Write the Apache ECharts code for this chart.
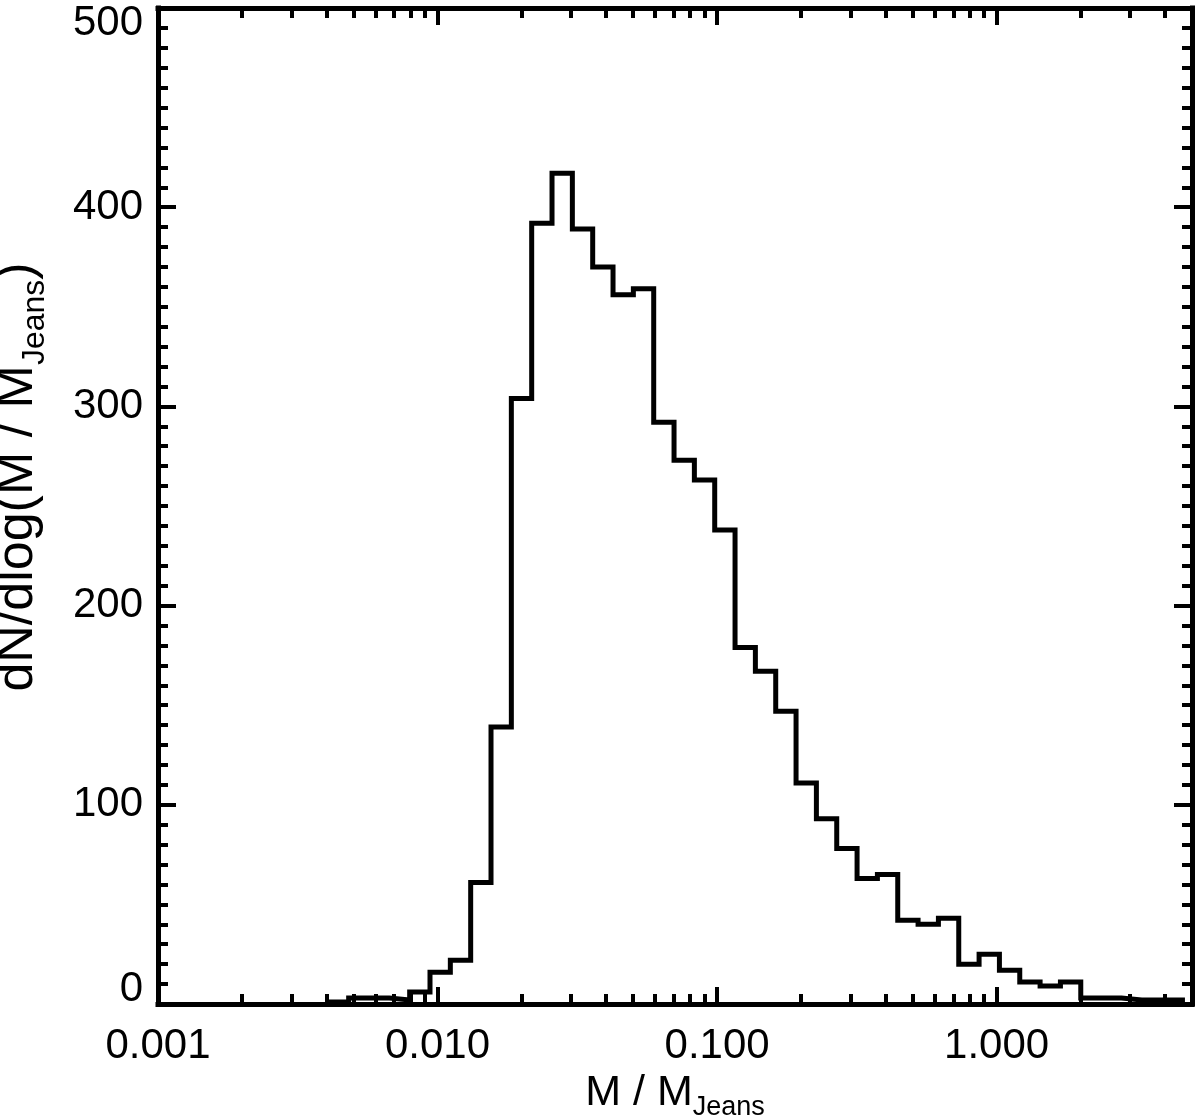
<!DOCTYPE html>
<html>
<head>
<meta charset="utf-8">
<title>dN/dlog(M / M_Jeans)</title>
<script src="https://cdn.jsdelivr.net/npm/echarts@6/dist/echarts.min.js"></script>
<style>
  html, body { margin: 0; padding: 0; background: #fff; }
  #chart { width: 1200px; height: 1120px; }
</style>
</head>
<body>
<div id="chart"></div>
<script>
// histogram, bins uniform in log10(M / M_Jeans)
var binStartLog = -2.3907;   // left edge of first bin
var binWidthLog = 0.07275;
var counts = [1, 3, 3, 2, 6, 16, 22, 61, 139, 304,
  392, 417, 389, 370, 356, 359, 292, 273, 263, 238,
  179, 167, 147, 111, 93, 78, 63, 65, 42, 40,
  43, 20, 25, 17, 11, 9, 11, 3, 3, 2,
  2, 2];

// axes
var xMin = 0.001, xMax = 5;
var xMajorTicks = [0.001, 0.01, 0.1, 1];
var xTickLabels = ["0.001", "0.010", "0.100", "1.000"];
var xMinorMult = [2, 3, 4, 5, 6, 7, 8, 9];
var yMin = 0, yMax = 500, yStep = 100;

var font = "'Liberation Sans', Arial, Helvetica, sans-serif";

// minor ticks of the log axis: 2..9 in each decade
var xMinorTicks = [];
xMajorTicks.forEach(function (d) {
  xMinorMult.forEach(function (k) {
    if (d * k < xMax) xMinorTicks.push(d * k);
  });
});

// step line points at the bin edges
var histData = [];
for (var i = 0; i < counts.length; i++) {
  histData.push([Math.pow(10, binStartLog + i * binWidthLog), counts[i]]);
}
histData.push([Math.pow(10, binStartLog + counts.length * binWidthLog), 0]);

function xLabel(v) {
  var best = 0;
  for (var j = 1; j < xMajorTicks.length; j++) {
    if (Math.abs(Math.log10(v / xMajorTicks[j])) < Math.abs(Math.log10(v / xMajorTicks[best]))) best = j;
  }
  return xTickLabels[best];
}

var black = "#000";
var lineW = 5;

function xAxisOf(pos, major, withLabel) {
  var ax = {
    type: "log",
    logBase: 10,
    min: xMin,
    max: xMax,
    position: pos,
    axisLine: { show: major, onZero: false, lineStyle: { color: black, width: lineW, cap: "square" } },
    axisTick: {
      show: true,
      inside: true,
      length: major ? 17 : 10,
      customValues: major ? xMajorTicks : xMinorTicks,
      lineStyle: { color: black, width: 4 }
    },
    minorTick: { show: false },
    splitLine: { show: false },
    axisLabel: { show: false }
  };
  if (withLabel) {
    ax.axisLabel = {
      show: true,
      customValues: xMajorTicks,
      formatter: xLabel,
      color: black,
      fontFamily: font,
      fontSize: 42,
      margin: 21
    };
    ax.name = "{m|M / M}{s|Jeans}";
    ax.nameLocation = "middle";
    ax.nameGap = 66;
    ax.nameTextStyle = {
      color: black,
      fontFamily: font,
      rich: {
        m: { fontSize: 43, lineHeight: 48, verticalAlign: "top", fontFamily: font, color: black },
        s: { fontSize: 27, lineHeight: 30, padding: [22, 0, 0, 0], verticalAlign: "top", fontFamily: font, color: black }
      }
    };
  }
  return ax;
}

function yAxisOf(pos, withLabel) {
  var ax = {
    type: "value",
    min: yMin,
    max: yMax,
    interval: yStep,
    position: pos,
    axisLine: { show: true, lineStyle: { color: black, width: lineW, cap: "square" } },
    axisTick: { show: true, inside: true, length: 18, lineStyle: { color: black, width: 4 } },
    minorTick: { show: true, splitNumber: 10, length: 10, lineStyle: { color: black, width: 4 } },
    splitLine: { show: false },
    axisLabel: { show: false }
  };
  if (withLabel) {
    ax.axisLabel = {
      show: true,
      color: black,
      fontFamily: font,
      fontSize: 42,
      lineHeight: 30,
      margin: 15,
      verticalAlignMinLabel: "bottom",
      verticalAlignMaxLabel: "top"
    };
    ax.name = "{a|dN/dlog(M / M}{s|Jeans}{c|)}";
    ax.nameLocation = "middle";
    ax.nameRotate = 90;
    ax.nameGap = 108;
    ax.nameTextStyle = {
      color: black,
      fontFamily: font,
      rich: {
        a: { fontSize: 52, lineHeight: 58, padding: [0, 0, 0, 58], verticalAlign: "top", fontFamily: font, color: black },
        s: { fontSize: 32, lineHeight: 36, padding: [27, 0, 0, 0], verticalAlign: "top", fontFamily: font, color: black },
        c: { fontSize: 52, lineHeight: 58, verticalAlign: "top", fontFamily: font, color: black }
      }
    };
  }
  return ax;
}

var myChart = echarts.init(document.getElementById("chart"));
var option = {
  backgroundColor: "#fff",
  animation: false,
  grid: { left: 158, right: 8, top: 8, bottom: 116, containLabel: false, outerBoundsMode: "none" },
  xAxis: [
    xAxisOf("bottom", true, true),
    xAxisOf("bottom", false, false),
    xAxisOf("top", true, false),
    xAxisOf("top", false, false)
  ],
  yAxis: [yAxisOf("left", true), yAxisOf("right", false)],
  series: [
    {
      type: "line",
      xAxisIndex: 0,
      yAxisIndex: 0,
      step: "end",
      symbol: "none",
      data: histData,
      lineStyle: { color: black, width: lineW, join: "miter" },
      z: 1
    }
  ]
};
myChart.setOption(option);
</script>
</body>
</html>
